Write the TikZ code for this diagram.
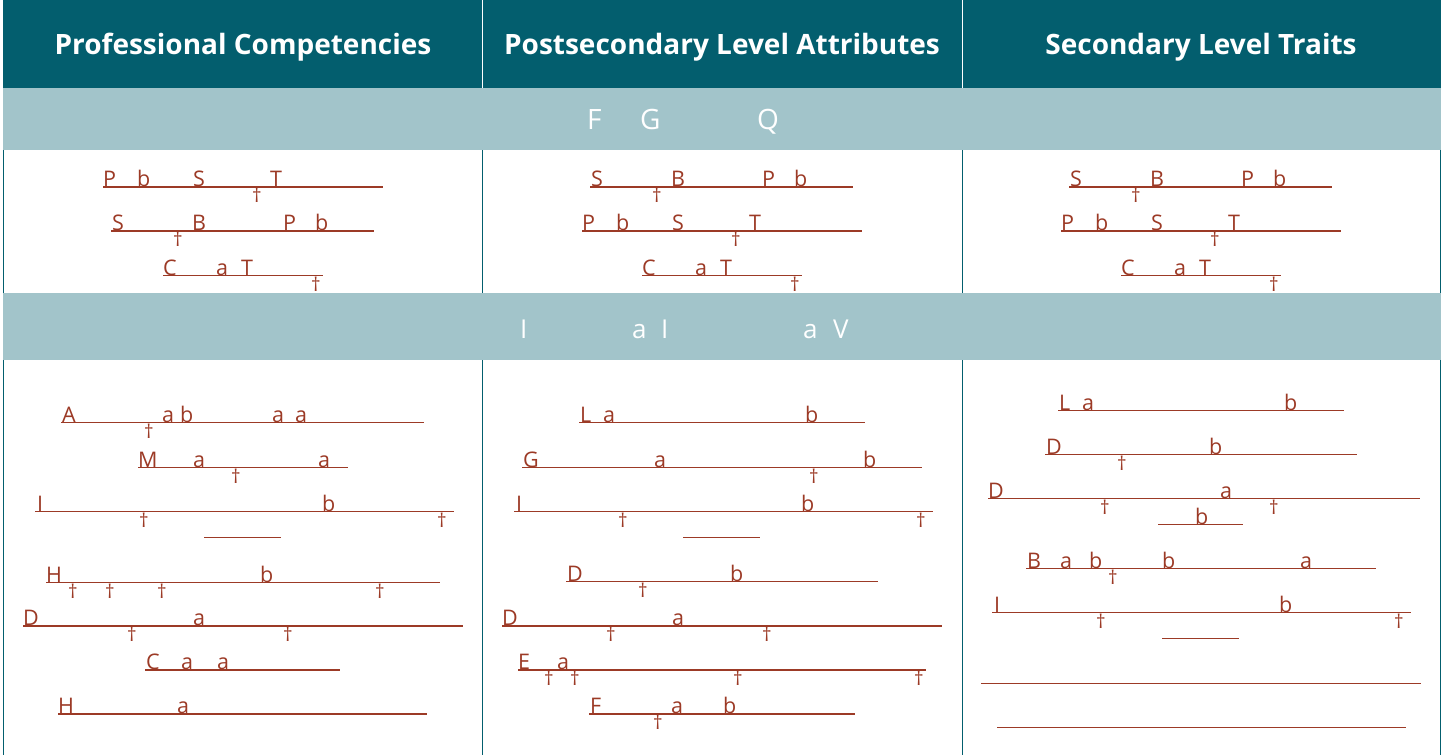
\documentclass[tikz,border=0pt]{standalone}
\usepackage{fontspec}
\setmainfont{Open Sans}
\definecolor{hdr}{HTML}{035E6E}
\definecolor{band}{HTML}{A2C4CA}
\definecolor{ink}{HTML}{9C3A26}
\newcommand\gp[2]{\makebox[0pt][l]{\hspace*{#1pt}#2}}
\newcommand\gd[1]{\makebox[0pt][l]{\hspace*{#1pt}\hspace*{-5pt}\raisebox{-16pt}{\fontsize{19}{19}\selectfont †}}}
\newcommand\uln[2]{\rlap{\rule[-1pt]{#1pt}{1.2pt}}#2\hspace*{#1pt}}
\newcommand\txtPST{\uln{280}{\gp{0}{P}\gp{34}{b}\gp{90}{S}\gp{167}{T}\gd{154}}}
\newcommand\txtSBP{\uln{263}{\gp{1}{S}\gp{81}{B}\gp{172}{P}\gp{204}{b}\gd{67}}}
\newcommand\txtCAT{\uln{160}{\gp{0}{C}\gp{53}{a}\gp{78}{T}\gd{153}}}
\newcommand\txtI{\uln{419}{\gp{2}{I}\gp{287}{b}\gd{109}\gd{407}}}
\newcommand\txtD{\uln{440}{\gp{0}{D}\gp{170}{a}\gd{109}\gd{265}}}
\newcommand\txtL{\uln{286}{\gp{1}{L}\gp{24}{a}\gp{226}{b}}}
\newcommand\txtDb{\uln{312}{\gp{1}{D}\gp{164}{b}\gd{77}}}
\tikzset{
  item/.style={anchor=base west, inner sep=0pt, text=ink, font=\fontsize{21.5}{21.5}\selectfont},
  head/.style={anchor=base, inner sep=0pt, text=white, font=\fontsize{28}{28}\selectfont\bfseries},
  bandtxt/.style={anchor=base west, inner sep=0pt, text=white, font=\fontsize{28}{28}\selectfont},
  colline/.style={draw=hdr, line width=1.4pt},
  sepline/.style={draw=white, line width=1.6pt}
}
\begin{document}
\begin{tikzpicture}[x=1pt,y=-1pt]
\useasboundingbox (0,0) rectangle (1442,755);
\fill[white] (0,0) rectangle (1442,755);
% column rules in body
\foreach \xx in {3.7,482.5,962.5,1440.3} \draw[colline] (\xx,87) -- (\xx,755);
% header
\fill[hdr] (3,0) rectangle (1441,87.5);
\draw[sepline] (482.5,0) -- (482.5,87.5);
\draw[sepline] (962.5,0) -- (962.5,87.5);
% bands
\fill[band] (3,87.5) rectangle (1441,150);
\fill[band] (3,293) rectangle (1441,360);
% headings
\node[head] (h1) at (243,54) {Professional Competencies};
\node[head] (h2) at (722,54) {Postsecondary Level Attributes};
\node[head] (h3) at (1201,54) {Secondary Level Traits};
% band texts
\node[bandtxt] (b1) at (587,129) {\gp{0}{F}\gp{53}{G}\gp{170}{Q}\hspace*{250pt}};
\node[bandtxt, font=\fontsize{26}{26}\selectfont] (b2) at (520,338) {\gp{0}{I}\gp{112}{a}\gp{141}{I}\gp{283}{a}\gp{313}{V}\hspace*{360pt}};
% row 1
\node[item] (a1) at (103,186.5) {\txtPST};
\node[item] (a2) at (111,230.5) {\txtSBP};
\node[item] (a3) at (163,275) {\txtCAT};
\node[item] (b1r) at (590,186.5) {\txtSBP};
\node[item] (b2r) at (582,230.5) {\txtPST};
\node[item] (b3r) at (642,275) {\txtCAT};
\node[item] (c1) at (1069,186.5) {\txtSBP};
\node[item] (c2) at (1061,230.5) {\txtPST};
\node[item] (c3) at (1121,275) {\txtCAT};
% row 2 column 1
\node[item] (p1) at (61,422) {\uln{363}{\gp{1}{A}\gp{101}{a}\gp{119}{b}\gp{211}{a}\gp{234}{a}\gd{88}}};
\node[item] (p2) at (138,467) {\uln{210}{\gp{0}{M}\gp{55}{a}\gp{180}{a}\gd{98}}};
\node[item] (p3) at (35,511) {\txtI};
\node[item] (p3b) at (204,537) {\uln{77}{}};
\node[item] (p4) at (46,582) {\uln{394}{\gp{0}{H}\gp{214}{b}\gd{27}\gd{64}\gd{116}\gd{334}}};
\node[item] (p5) at (23,625.5) {\txtD};
\node[item] (p6) at (145,669.5) {\uln{195}{\gp{1}{C}\gp{36}{a}\gp{72}{a}}};
\node[item] (p7) at (58,713.5) {\uln{369}{\gp{0}{H}\gp{119}{a}}};
% row 2 column 2
\node[item] (q1) at (579,422) {\txtL};
\node[item] (q2) at (522,467) {\uln{400}{\gp{1}{G}\gp{132}{a}\gp{341}{b}\gd{292}}};
\node[item] (q3) at (514,511) {\txtI};
\node[item] (q3b) at (683,537) {\uln{77}{}};
\node[item] (q4) at (566,581) {\txtDb};
\node[item] (q5) at (502,625.5) {\txtD};
\node[item] (q6) at (518,669.5) {\uln{408}{\gp{0}{E}\gp{39}{a}\gd{31}\gd{57}\gd{220}\gd{401}}};
\node[item] (q7) at (589,713.5) {\uln{266}{\gp{1}{F}\gp{82}{a}\gp{134}{b}\gd{69}}};
% row 2 column 3
\node[item] (r1) at (1058,410) {\txtL};
\node[item] (r2) at (1045,454) {\txtDb};
\node[item] (r3) at (988,498) {\uln{432}{\gp{0}{D}\gp{232}{a}\gd{117}\gd{286}}};
\node[item] (r3b) at (1158,524) {\uln{85}{\gp{37}{b}}};
\node[item] (r4) at (1026,568) {\uln{350}{\gp{1}{B}\gp{34}{a}\gp{63}{b}\gp{136}{b}\gp{274}{a}\gd{87}}};
\node[item] (r5) at (992,612) {\txtI};
\node[item] (r5b) at (1162,638) {\uln{77}{}};
\node[item] (r6) at (981,683) {\uln{440}{}};
\node[item] (r7) at (997,727) {\uln{409}{}};
\end{tikzpicture}
\end{document}
